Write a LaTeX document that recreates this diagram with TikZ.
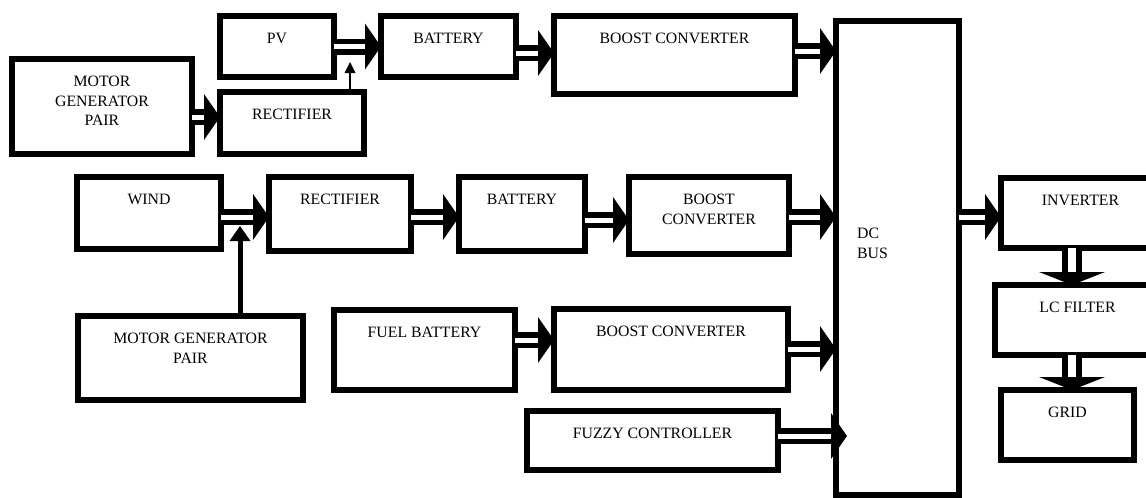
\documentclass[tikz,border=0pt]{standalone}
\usepackage{fontspec}
\setmainfont{Liberation Serif}
\usetikzlibrary{arrows.meta}

\begin{document}
\begin{tikzpicture}[x=1pt, y=-1pt,
  blk/.style={draw, line width=6pt, inner sep=0pt, outer sep=0pt},
  lbl/.style={anchor=north, inner sep=0pt, align=center, yshift=-17pt,
    font=\fontsize{15.8}{19.5}\selectfont},
  dbl/.style={double=white, double distance=5pt, line width=5.5pt,
    -{Triangle[length=16pt, width=46pt, line width=0pt]}},
  dblv/.style={double=white, double distance=8pt, line width=6pt,
    -{Triangle[length=13pt, width=66pt, line width=0pt]}},
  feed/.style={line width=2pt, -{Triangle[length=11pt, width=11pt, line width=0pt]}},
  feedthick/.style={line width=5pt, -{Triangle[length=15pt, width=21pt, line width=0pt]}},
]
\useasboundingbox (0,0) rectangle (1146,498);

% top row
\node[blk, minimum width=114pt, minimum height=61pt, label={[lbl]north:PV}] (pv) at (277,46.5) {};
\node[blk, minimum width=135pt, minimum height=61pt, label={[lbl]north:BATTERY}] (batt1) at (448.5,46.5) {};
\node[blk, minimum width=241pt, minimum height=78pt, label={[lbl]north:BOOST CONVERTER}] (boost1) at (674.5,55) {};
\node[blk, minimum width=180pt, minimum height=95pt, label={[lbl]north:MOTOR\\GENERATOR\\PAIR}] (mgp1) at (102,106.5) {};
\node[blk, minimum width=144pt, minimum height=62pt, label={[lbl]north:RECTIFIER}] (rect1) at (292,123) {};

% middle row
\node[blk, minimum width=144pt, minimum height=72pt, label={[lbl]north:WIND}] (wind) at (149,213) {};
\node[blk, minimum width=142pt, minimum height=74pt, label={[lbl]north:RECTIFIER}] (rect2) at (340,214) {};
\node[blk, minimum width=126pt, minimum height=74pt, label={[lbl]north:BATTERY}] (batt2) at (522,214) {};
\node[blk, minimum width=160pt, minimum height=77pt, label={[lbl]north:BOOST\\CONVERTER}] (boost2) at (709,215.5) {};
\node[blk, minimum width=225pt, minimum height=84pt, label={[lbl]north:MOTOR GENERATOR\\PAIR}] (mgp2) at (190.5,358) {};

% lower rows
\node[blk, minimum width=181pt, minimum height=80pt, label={[lbl]north:FUEL BATTERY}] (fuel) at (424.5,350) {};
\node[blk, minimum width=234pt, minimum height=81pt, label={[lbl]north:BOOST CONVERTER}] (boost3) at (671,349.5) {};
\node[blk, minimum width=251pt, minimum height=59pt, label={[lbl]north:FUZZY CONTROLLER}] (fuzzy) at (652.5,440.5) {};

% bus and output side
\node[blk, minimum width=123pt, minimum height=474pt,
  label={[lbl, anchor=north west, align=left, xshift=21pt, yshift=-190pt]north west:DC\\BUS}] (dcbus) at (897.5,258) {};
\node[blk, minimum width=159pt, minimum height=70pt, label={[lbl]north:INVERTER}] (inv) at (1080.5,213) {};
\node[blk, minimum width=165pt, minimum height=70pt, label={[lbl]north:LC FILTER}] (lcf) at (1077.5,320) {};
\node[blk, minimum width=133pt, minimum height=70pt, label={[lbl]north:GRID}] (grid) at (1067.5,425) {};

\coordinate (pvjoin) at (350,62);
\coordinate (windjoin) at (240,226);
\coordinate (fuzzyin) at (847,436);

% connectors
\draw[dbl] (pv.east) -- (batt1.west);
\draw[dbl] (batt1.east |- 0,53) -- (boost1.west |- 0,53);
\draw[dbl] (boost1.east |- 0,51) -- (dcbus.west |- 0,51);
\draw[dbl] (mgp1.east |- 0,117) -- (rect1.west |- 0,117);
\draw[feed] (rect1.north -| pvjoin) -- (pvjoin);

\draw[dbl] (wind.east |- 0,217) -- (rect2.west |- 0,217);
\draw[feedthick] (mgp2.north -| windjoin) -- (windjoin);
\draw[dbl] (rect2.east |- 0,217) -- (batt2.west |- 0,217);
\draw[dbl] (batt2.east |- 0,220) -- (boost2.west |- 0,220);
\draw[dbl] (boost2.east |- 0,217) -- (dcbus.west |- 0,217);

\draw[dbl] (fuel.east |- 0,340) -- (boost3.west |- 0,340);
\draw[dbl] (boost3.east |- 0,349) -- (dcbus.west |- 0,349);
\draw[dbl] (fuzzy.east |- 0,436) -- (fuzzyin);

\draw[dbl] (dcbus.east |- 0,217) -- (inv.west |- 0,217);
\draw[dblv] (inv.south -| 1072,0) -- (lcf.north -| 1072,0);
\draw[dblv] (lcf.south -| 1072,0) -- (grid.north -| 1072,0);

\end{tikzpicture}
\end{document}
